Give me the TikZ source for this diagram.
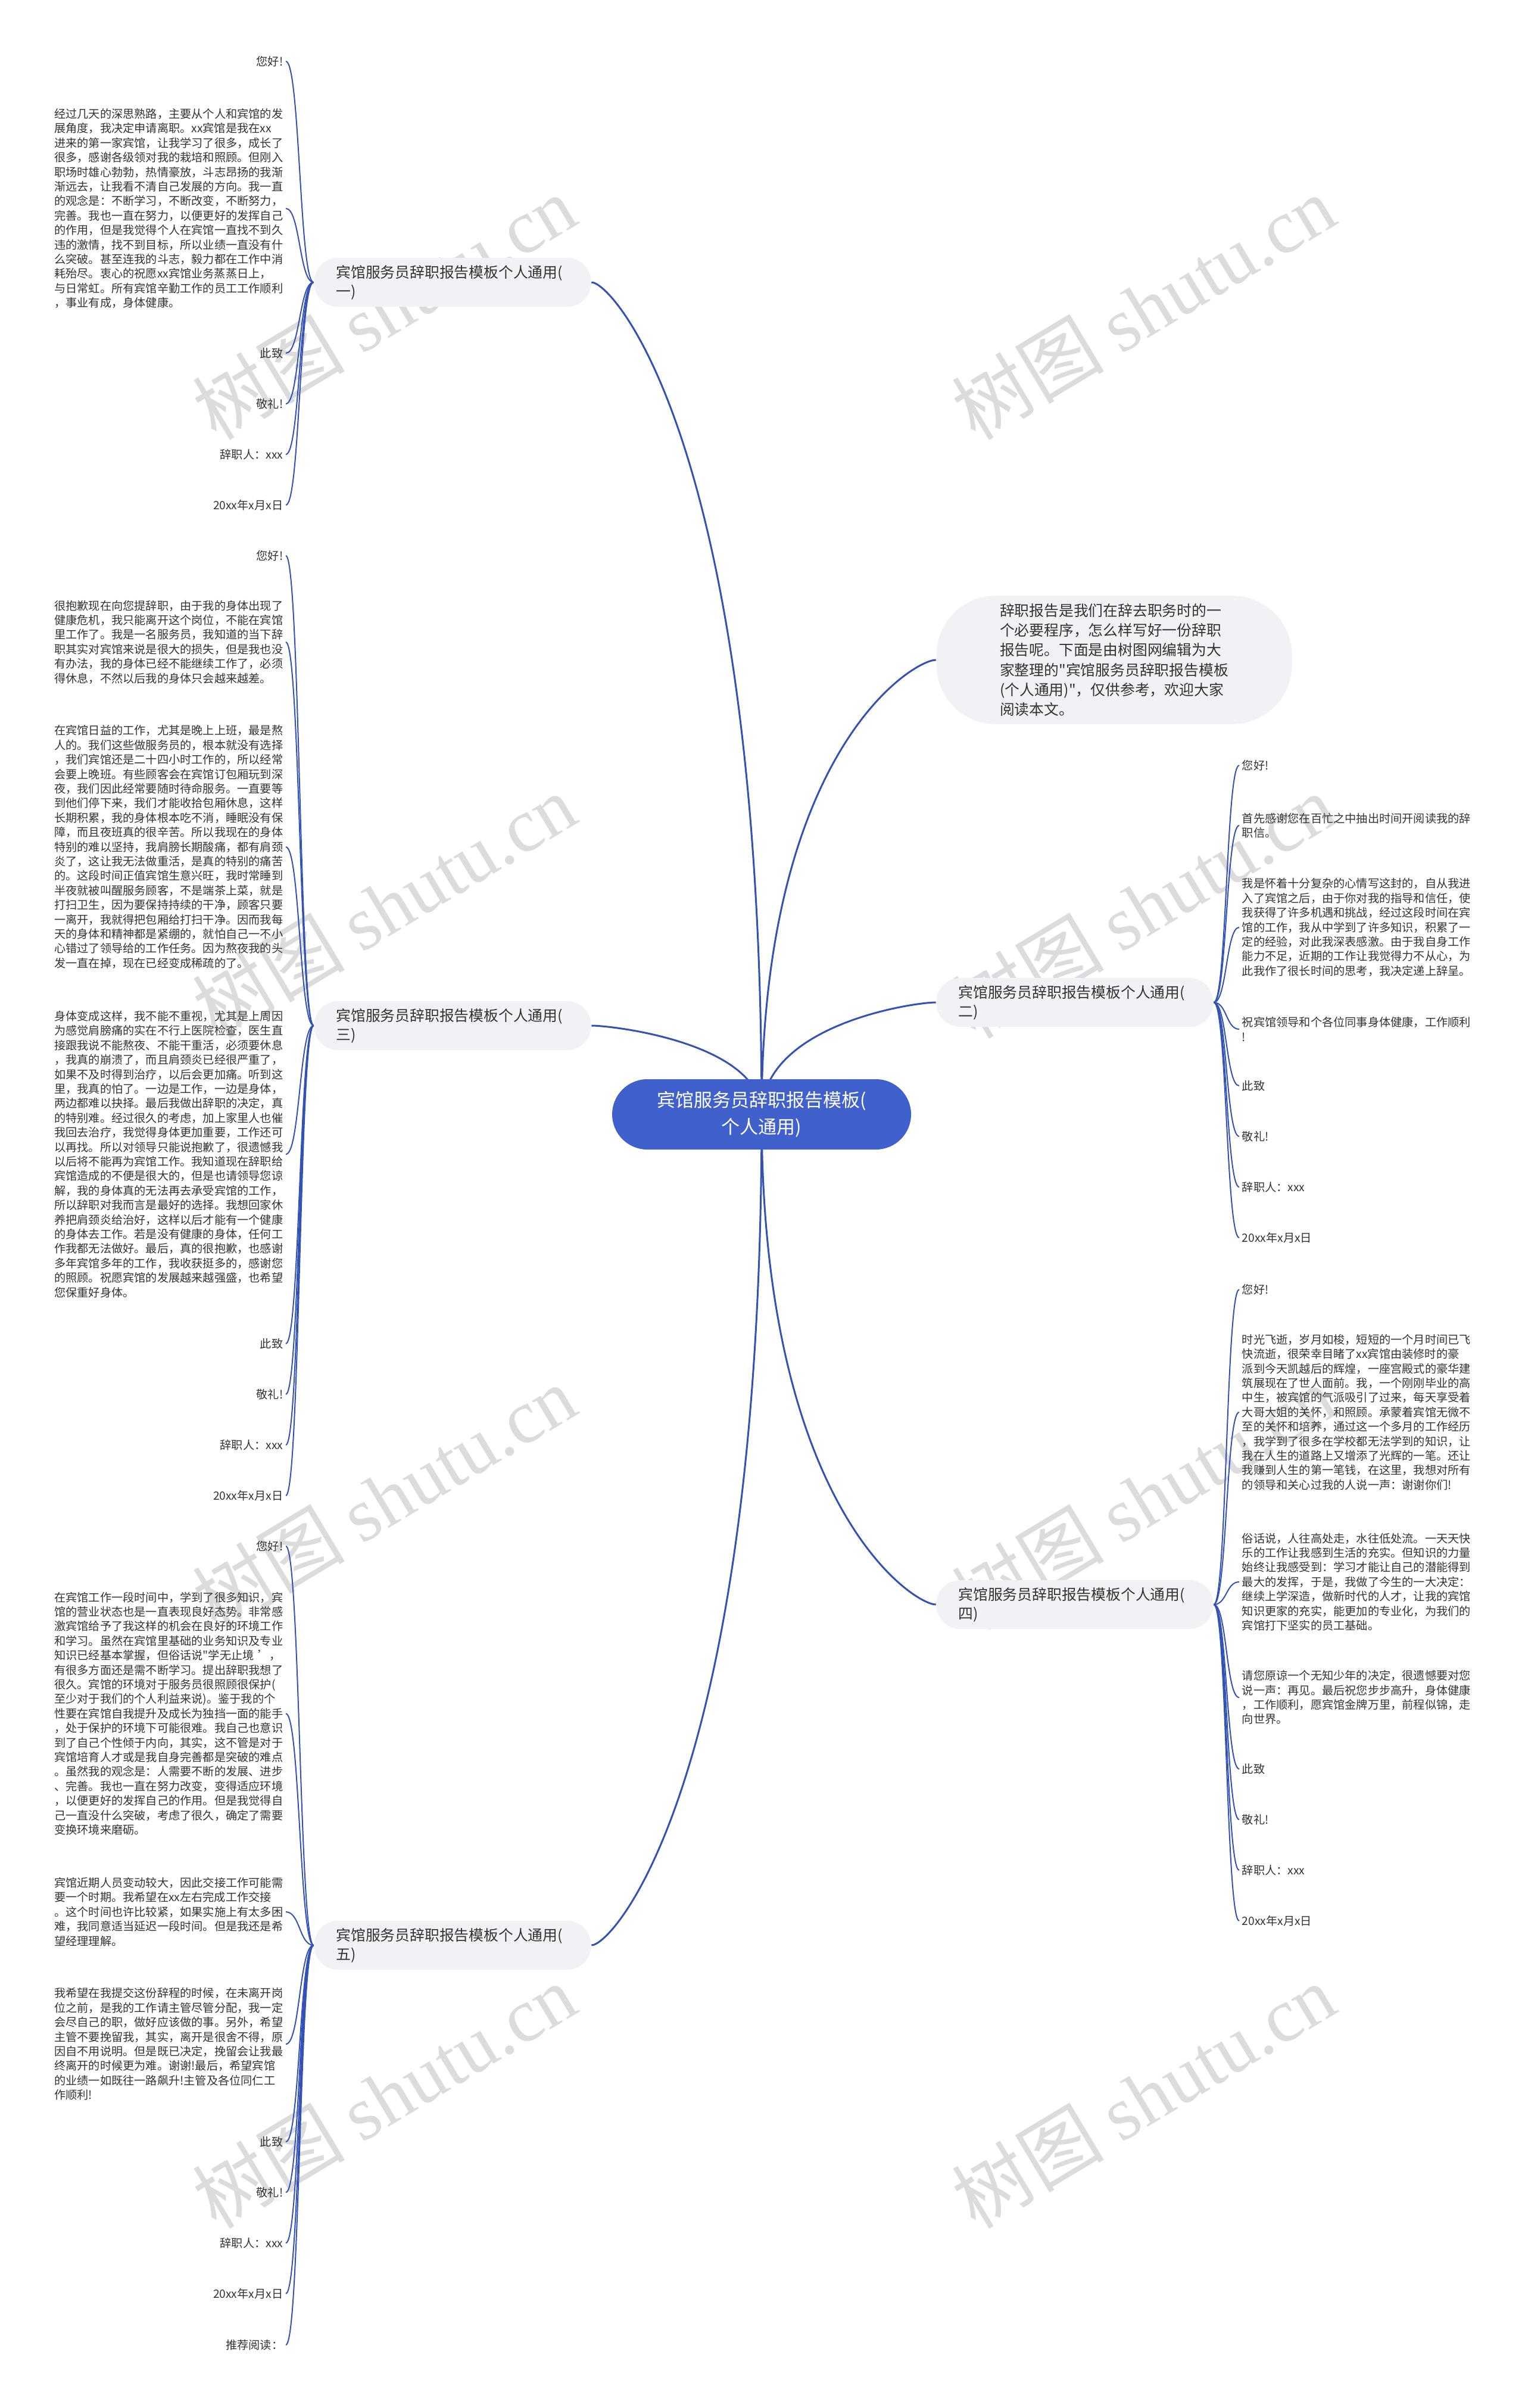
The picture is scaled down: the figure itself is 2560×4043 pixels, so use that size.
\documentclass[tikz,border=0pt]{standalone}
\usepackage{fontspec}
\setmainfont{Noto Sans CJK SC}[Ligatures=TeXOff]
\newfontfamily\wmlatin{Liberation Serif}
\usetikzlibrary{calc,backgrounds}
\definecolor{linec}{RGB}{52,82,180}
\definecolor{rootc}{RGB}{64,96,204}
\definecolor{branchc}{RGB}{240,242,246}
\definecolor{textc}{RGB}{51,51,51}
\definecolor{wmc}{RGB}{220,220,220}
\newcommand\leaffont{\fontsize{4.8}{6.1}\selectfont}
\newcommand\hubline[2]{\draw[hub] (#1) .. controls ($(#1)!0.8!(#1 |- #2)$) and ($(#2)!0.13!(#1 |- #2)$) .. (#2);}
\tikzset{
  lleaf/.style={anchor=east, inner xsep=1pt, inner ysep=0.5pt, text=textc, font=\leaffont, align=right},
  lpara/.style={lleaf, text width=96pt, align=left},
  rleaf/.style={anchor=west, inner xsep=1pt, inner ysep=0.5pt, text=textc, font=\leaffont, align=left},
  rpara/.style={rleaf, text width=97pt},
  branchbox/.style={fill=branchc, rounded corners=10pt, minimum width=116.25pt, minimum height=20.5pt, text width=97.75pt, inner xsep=9.25pt, inner ysep=2pt, align=left, text=textc, font=\fontsize{6.2}{8}\selectfont},
  rootbox/.style={fill=rootc, rounded corners=14.75pt, minimum width=125.5pt, minimum height=29.5pt, align=center, text=white, font=\fontsize{7.75}{11.25}\selectfont, inner sep=2pt},
  introbox/.style={fill=branchc, rounded corners=25pt, minimum width=149.25pt, minimum height=51.75pt, align=left, text=textc, font=\fontsize{6.2}{8.3}\selectfont, inner xsep=4pt},
  hub/.style={draw=linec, line width=0.75pt},
  leafline/.style={draw=linec, line width=0.5pt},
  wmark/.style={rotate=31, text=wmc, font=\fontsize{32}{32}\selectfont, inner sep=0pt}
}
\begin{document}
\begin{tikzpicture}[x=0.25pt,y=-0.25pt]
\useasboundingbox (0,0) rectangle (2560,4043);
% root and branches
\node[rootbox] (root) at (1279,1871) {宾馆服务员辞职报告模板(\\个人通用)};
\node[branchbox] (b1) at (760,474) {宾馆服务员辞职报告模板个人通用(\\一)};
\node[introbox] (intro) at (1871,1108) {辞职报告是我们在辞去职务时的一\\个必要程序，怎么样写好一份辞职\\报告呢。下面是由树图网编辑为大\\家整理的"宾馆服务员辞职报告模板\\(个人通用)"，仅供参考，欢迎大家\\阅读本文。};
\node[branchbox] (b2) at (1805,1683) {宾馆服务员辞职报告模板个人通用(\\二)};
\node[branchbox] (b3) at (760,1722) {宾馆服务员辞职报告模板个人通用(\\三)};
\node[branchbox] (b4) at (1805,2694) {宾馆服务员辞职报告模板个人通用(\\四)};
\node[branchbox] (b5) at (760,3266) {宾馆服务员辞职报告模板个人通用(\\五)};
% branch 1 leaves
\node[lleaf] (a1) at (480,103) {您好!};
\node[lpara] (a2) at (480,350) {经过几天的深思熟路，主要从个人和宾馆的发\\展角度，我决定申请离职。xx宾馆是我在xx\\进来的第一家宾馆，让我学习了很多，成长了\\很多，感谢各级领对我的栽培和照顾。但刚入\\职场时雄心勃勃，热情豪放，斗志昂扬的我渐\\渐远去，让我看不清自己发展的方向。我一直\\的观念是：不断学习，不断改变，不断努力，\\完善。我也一直在努力，以便更好的发挥自己\\的作用，但是我觉得个人在宾馆一直找不到久\\违的激情，找不到目标，所以业绩一直没有什\\么突破。甚至连我的斗志，毅力都在工作中消\\耗殆尽。衷心的祝愿xx宾馆业务蒸蒸日上，\\与日常虹。所有宾馆辛勤工作的员工工作顺利\\，事业有成，身体健康。};
\node[lleaf] (a3) at (480,593) {此致};
\node[lleaf] (a4) at (480,678) {敬礼!};
\node[lleaf] (a5) at (480,763) {辞职人：xxx};
\node[lleaf] (a6) at (480,848) {20xx年x月x日};
% branch 3 leaves
\node[lleaf] (c1) at (480,933) {您好!};
\node[lpara] (c2) at (480,1078) {很抱歉现在向您提辞职，由于我的身体出现了\\健康危机，我只能离开这个岗位，不能在宾馆\\里工作了。我是一名服务员，我知道的当下辞\\职其实对宾馆来说是很大的损失，但是我也没\\有办法，我的身体已经不能继续工作了，必须\\得休息，不然以后我的身体只会越来越差。};
\node[lpara] (c3) at (480,1422) {在宾馆日益的工作，尤其是晚上上班，最是熬\\人的。我们这些做服务员的，根本就没有选择\\，我们宾馆还是二十四小时工作的，所以经常\\会要上晚班。有些顾客会在宾馆订包厢玩到深\\夜，我们因此经常要随时待命服务。一直要等\\到他们停下来，我们才能收拾包厢休息，这样\\长期积累，我的身体根本吃不消，睡眠没有保\\障，而且夜班真的很辛苦。所以我现在的身体\\特别的难以坚持，我肩膀长期酸痛，都有肩颈\\炎了，这让我无法做重活，是真的特别的痛苦\\的。这段时间正值宾馆生意兴旺，我时常睡到\\半夜就被叫醒服务顾客，不是端茶上菜，就是\\打扫卫生，因为要保持持续的干净，顾客只要\\一离开，我就得把包厢给打扫干净。因而我每\\天的身体和精神都是紧绷的，就怕自己一不小\\心错过了领导给的工作任务。因为熬夜我的头\\发一直在掉，现在已经变成稀疏的了。};
\node[lpara] (c4) at (480,1938) {身体变成这样，我不能不重视，尤其是上周因\\为感觉肩膀痛的实在不行上医院检查，医生直\\接跟我说不能熬夜、不能干重活，必须要休息\\，我真的崩溃了，而且肩颈炎已经很严重了，\\如果不及时得到治疗，以后会更加痛。听到这\\里，我真的怕了。一边是工作，一边是身体，\\两边都难以抉择。最后我做出辞职的决定，真\\的特别难。经过很久的考虑，加上家里人也催\\我回去治疗，我觉得身体更加重要，工作还可\\以再找。所以对领导只能说抱歉了，很遗憾我\\以后将不能再为宾馆工作。我知道现在辞职给\\宾馆造成的不便是很大的，但是也请领导您谅\\解，我的身体真的无法再去承受宾馆的工作，\\所以辞职对我而言是最好的选择。我想回家休\\养把肩颈炎给治好，这样以后才能有一个健康\\的身体去工作。若是没有健康的身体，任何工\\作我都无法做好。最后，真的很抱歉，也感谢\\多年宾馆多年的工作，我收获挺多的，感谢您\\的照顾。祝愿宾馆的发展越来越强盛，也希望\\您保重好身体。};
\node[lleaf] (c5) at (480,2256) {此致};
\node[lleaf] (c6) at (480,2341) {敬礼!};
\node[lleaf] (c7) at (480,2426) {辞职人：xxx};
\node[lleaf] (c8) at (480,2511) {20xx年x月x日};
% branch 5 leaves
\node[lleaf] (e1) at (480,2596) {您好!};
\node[lpara] (e2) at (480,2877) {在宾馆工作一段时间中，学到了很多知识，宾\\馆的营业状态也是一直表现良好态势。非常感\\激宾馆给予了我这样的机会在良好的环境工作\\和学习。虽然在宾馆里基础的业务知识及专业\\知识已经基本掌握，但俗话说"学无止境~’，\\有很多方面还是需不断学习。提出辞职我想了\\很久。宾馆的环境对于服务员很照顾很保护(\\至少对于我们的个人利益来说)。鉴于我的个\\性要在宾馆自我提升及成长为独挡一面的能手\\，处于保护的环境下可能很难。我自己也意识\\到了自己个性倾于内向，其实，这不管是对于\\宾馆培育人才或是我自身完善都是突破的难点\\。虽然我的观念是：人需要不断的发展、进步\\、完善。我也一直在努力改变，变得适应环境\\，以便更好的发挥自己的作用。但是我觉得自\\己一直没什么突破，考虑了很久，确定了需要\\变换环境来磨砺。};
\node[lpara] (e3) at (480,3210) {宾馆近期人员变动较大，因此交接工作可能需\\要一个时期。我希望在xx左右完成工作交接\\。这个时间也许比较紧，如果实施上有太多困\\难，我同意适当延迟一段时间。但是我还是希\\望经理理解。};
\node[lpara] (e4) at (480,3432) {我希望在我提交这份辞程的时候，在未离开岗\\位之前，是我的工作请主管尽管分配，我一定\\会尽自己的职，做好应该做的事。另外，希望\\主管不要挽留我，其实，离开是很舍不得，原\\因自不用说明。但是既已决定，挽留会让我最\\终离开的时候更为难。谢谢!最后，希望宾馆\\的业绩一如既往一路飙升!主管及各位同仁工\\作顺利!};
\node[lleaf] (e5) at (480,3596) {此致};
\node[lleaf] (e6) at (480,3681) {敬礼!};
\node[lleaf] (e7) at (480,3766) {辞职人：xxx};
\node[lleaf] (e8) at (480,3851) {20xx年x月x日};
\node[lleaf] (e9) at (480,3937) {推荐阅读：};
% branch 2 leaves
\node[rleaf] (d1) at (2081,1285) {您好!};
\node[rpara] (d2) at (2081,1386) {首先感谢您在百忙之中抽出时间开阅读我的辞\\职信。};
\node[rpara] (d3) at (2081,1557) {我是怀着十分复杂的心情写这封的，自从我进\\入了宾馆之后，由于你对我的指导和信任，使\\我获得了许多机遇和挑战，经过这段时间在宾\\馆的工作，我从中学到了许多知识，积累了一\\定的经验，对此我深表感激。由于我自身工作\\能力不足，近期的工作让我觉得力不从心，为\\此我作了很长时间的思考，我决定递上辞呈。};
\node[rpara] (d4) at (2081,1728) {祝宾馆领导和个各位同事身体健康，工作顺利\\!};
\node[rleaf] (d5) at (2081,1823) {此致};
\node[rleaf] (d6) at (2081,1908) {敬礼!};
\node[rleaf] (d7) at (2081,1993) {辞职人：xxx};
\node[rleaf] (d8) at (2081,2078) {20xx年x月x日};
% branch 4 leaves
\node[rleaf] (f1) at (2081,2165) {您好!};
\node[rpara] (f2) at (2081,2371) {时光飞逝，岁月如梭，短短的一个月时间已飞\\快流逝，很荣幸目睹了xx宾馆由装修时的豪\\派到今天凯越后的辉煌，一座宫殿式的豪华建\\筑展现在了世人面前。我，一个刚刚毕业的高\\中生，被宾馆的气派吸引了过来，每天享受着\\大哥大姐的关怀，和照顾。承蒙着宾馆无微不\\至的关怀和培养，通过这一个多月的工作经历\\，我学到了很多在学校都无法学到的知识，让\\我在人生的道路上又增添了光辉的一笔。还让\\我赚到人生的第一笔钱，在这里，我想对所有\\的领导和关心过我的人说一声：谢谢你们!};
\node[rpara] (f3) at (2081,2656) {俗话说，人往高处走，水往低处流。一天天快\\乐的工作让我感到生活的充实。但知识的力量\\始终让我感受到：学习才能让自己的潜能得到\\最大的发挥，于是，我做了今生的一大决定：\\继续上学深造，做新时代的人才，让我的宾馆\\知识更家的充实，能更加的专业化，为我们的\\宾馆打下坚实的员工基础。};
\node[rpara] (f4) at (2081,2850) {请您原谅一个无知少年的决定，很遗憾要对您\\说一声：再见。最后祝您步步高升，身体健康\\，工作顺利，愿宾馆金牌万里，前程似锦，走\\向世界。};
\node[rleaf] (f5) at (2081,2970) {此致};
\node[rleaf] (f6) at (2081,3055) {敬礼!};
\node[rleaf] (f7) at (2081,3140) {辞职人：xxx};
\node[rleaf] (f8) at (2081,3225) {20xx年x月x日};
\begin{pgfonlayer}{background}
\fill[white] (0,0) rectangle (2560,4043);
\foreach \wx in {645,1920} {
  \foreach \wy in {516,1521,2514,3519} {
    \node[wmark] (wm-\wx-\wy) at (\wx,\wy) {树图 {\wmlatin shutu.cn}};
  }
}
\hubline{root.center}{b1.east}
\hubline{root.center}{b3.east}
\hubline{root.center}{b5.east}
\hubline{root.center}{intro.west}
\hubline{root.center}{b2.west}
\hubline{root.center}{b4.west}
\foreach \n in {a1,a2,a3,a4,a5,a6} {\draw[leafline] (b1.west) .. controls +(-24,0) and +(24,0) .. (\n.east);}
\foreach \n in {c1,c2,c3,c4,c5,c6,c7,c8} {\draw[leafline] (b3.west) .. controls +(-24,0) and +(24,0) .. (\n.east);}
\foreach \n in {e1,e2,e3,e4,e5,e6,e7,e8,e9} {\draw[leafline] (b5.west) .. controls +(-24,0) and +(24,0) .. (\n.east);}
\foreach \n in {d1,d2,d3,d4,d5,d6,d7,d8} {\draw[leafline] (b2.east) .. controls +(22,0) and +(-22,0) .. (\n.west);}
\foreach \n in {f1,f2,f3,f4,f5,f6,f7,f8} {\draw[leafline] (b4.east) .. controls +(22,0) and +(-22,0) .. (\n.west);}
\end{pgfonlayer}
\end{tikzpicture}
\end{document}
